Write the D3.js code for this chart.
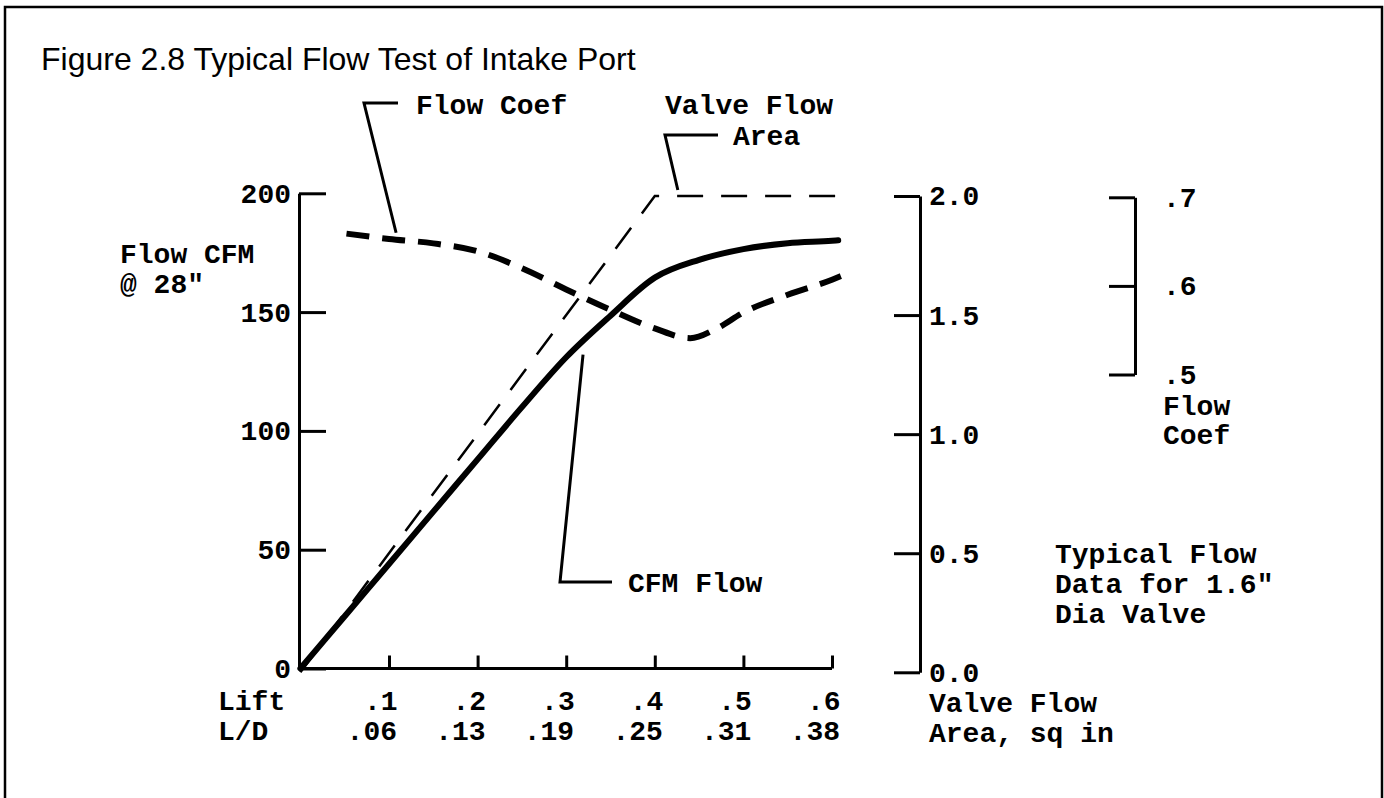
<!DOCTYPE html>
<html>
<head>
<meta charset="utf-8">
<script src="https://cdn.jsdelivr.net/npm/d3@7"></script>
<style>
body { margin: 0; background: #fff; }
svg text { font-family: "Courier New", "Liberation Mono", monospace; font-weight: bold; font-size: 28px; fill: #000; }
svg text.title { font-family: Arial, "Liberation Sans", sans-serif; font-weight: normal; font-size: 32px; }
</style>
</head>
<body>
<div id="chart"></div>
<script>
// valve lift (in) and measured flow
var lift = [0, 0.05, 0.1, 0.15, 0.2, 0.25, 0.3, 0.35, 0.4, 0.45, 0.5, 0.55, 0.6, 0.607];
var cfm = [0, 22, 44, 66, 88, 110, 131, 148.5, 164.5, 172, 176.5, 179, 180, 180.2];

// flow coefficient
var coefLift = [0.052, 0.1, 0.15, 0.2, 0.25, 0.3, 0.35, 0.4, 0.44, 0.47, 0.5, 0.55, 0.6, 0.61];
var coef = [0.659, 0.653, 0.648, 0.639, 0.620, 0.596, 0.573, 0.552, 0.541, 0.552, 0.570, 0.590, 0.607, 0.611];

// valve flow area, sq in
var areaLift = [0, 0.4, 0.607];
var area = [0, 2.0, 2.0];

// ticks
var liftTicks = [0.1, 0.2, 0.3, 0.4, 0.5, 0.6];
var ldLabels = ['.06', '.13', '.19', '.25', '.31', '.38'];
var cfmTicks = [0, 50, 100, 150, 200];
var areaTicks = [0, 0.5, 1.0, 1.5, 2.0];
var coefTicks = [0.5, 0.6, 0.7];

var width = 1384;
var height = 798;

var svg = d3.select('#chart')
	.append('svg')
	.attr('width', width)
	.attr('height', height);

// frame + title
svg.append('rect')
	.attr('x', 5).attr('y', 7)
	.attr('width', 1377).attr('height', 820)
	.attr('fill', 'none')
	.attr('stroke', '#000')
	.attr('stroke-width', 2.5);

svg.append('text')
	.attr('class', 'title')
	.attr('x', 41).attr('y', 70)
	.text('Figure 2.8 Typical Flow Test of Intake Port');

// scales
var x = d3.scaleLinear().domain([0, 0.6]).range([300.4, 832]);
var yCfm = d3.scaleLinear().domain([0, 200]).range([668.5, 193.3]);
var yArea = d3.scaleLinear().domain([0, 2]).range([672.3, 196]);
var yCoef = d3.scaleLinear().domain([0.5, 0.7]).range([374.5, 197.3]);

function dropZero(d) {
	return d3.format('.1f')(d).slice(1);
}

function styleAxis(g) {
	g.selectAll('path, line')
		.attr('stroke', '#000')
		.attr('stroke-width', 3);
}

// left axis (CFM)
var leftAxis = svg.append('g')
	.attr('transform', 'translate(299,0)')
	.call(d3.axisLeft(yCfm)
		.tickValues(cfmTicks)
		.tickSizeInner(-27)
		.tickSizeOuter(0)
		.tickPadding(8));
styleAxis(leftAxis);

svg.append('text').attr('x', 120).attr('y', 253).attr('dy', '0.35em').text('Flow CFM');
svg.append('text').attr('x', 120).attr('y', 283).attr('dy', '0.35em').text('@ 28"');

// bottom axis (lift)
var bottomAxis = svg.append('g')
	.attr('transform', 'translate(0,' + yCfm(0) + ')')
	.call(d3.axisBottom(x)
		.tickValues(liftTicks)
		.tickSizeInner(-13)
		.tickSizeOuter(0)
		.tickFormat(dropZero));
styleAxis(bottomAxis);
bottomAxis.select('.domain').attr('d', 'M299,0H' + x(0.6));
bottomAxis.selectAll('text')
	.attr('text-anchor', 'end')
	.attr('x', 8)
	.attr('y', 31.5)
	.attr('dy', '0.35em');

svg.append('g').selectAll('text')
	.data(liftTicks)
	.enter()
	.append('text')
	.attr('x', function(d, i){ return x(d) + 8; })
	.attr('y', yCfm(0) + 61.5)
	.attr('dy', '0.35em')
	.attr('text-anchor', 'end')
	.text(function(d, i){ return ldLabels[i]; });

svg.append('text').attr('x', 218).attr('y', 700).attr('dy', '0.35em').text('Lift');
svg.append('text').attr('x', 218).attr('y', 730).attr('dy', '0.35em').text('L/D');

// right axis (valve flow area)
var areaAxis = svg.append('g')
	.attr('transform', 'translate(920,0)')
	.call(d3.axisRight(yArea)
		.tickValues(areaTicks)
		.tickSizeInner(-26)
		.tickSizeOuter(0)
		.tickPadding(9)
		.tickFormat(d3.format('.1f')));
styleAxis(areaAxis);

svg.append('text').attr('x', 929).attr('y', 702).attr('dy', '0.35em').text('Valve Flow');
svg.append('text').attr('x', 929).attr('y', 732).attr('dy', '0.35em').text('Area, sq in');

// flow coefficient axis
var coefAxis = svg.append('g')
	.attr('transform', 'translate(1135,0)')
	.call(d3.axisRight(yCoef)
		.tickValues(coefTicks)
		.tickSizeInner(-26)
		.tickSizeOuter(0)
		.tickPadding(28)
		.tickFormat(dropZero));
styleAxis(coefAxis);

svg.append('text').attr('x', 1163).attr('y', 405).attr('dy', '0.35em').text('Flow');
svg.append('text').attr('x', 1163).attr('y', 434).attr('dy', '0.35em').text('Coef');

// note
svg.append('text').attr('x', 1055).attr('y', 553).attr('dy', '0.35em').text('Typical Flow');
svg.append('text').attr('x', 1055).attr('y', 583).attr('dy', '0.35em').text('Data for 1.6"');
svg.append('text').attr('x', 1055).attr('y', 613).attr('dy', '0.35em').text('Dia Valve');

// curves
var areaLine = d3.line()
	.x(function(d){ return x(d[0]); })
	.y(function(d){ return yArea(d[1]); });

svg.append('path')
	.datum(d3.zip(areaLift, area))
	.attr('d', areaLine)
	.attr('fill', 'none')
	.attr('stroke', '#000')
	.attr('stroke-width', 2.5)
	.attr('stroke-dasharray', '26,18');

var coefLine = d3.line()
	.curve(d3.curveMonotoneX)
	.x(function(d){ return x(d[0]); })
	.y(function(d){ return yCoef(d[1]); });

svg.append('path')
	.datum(d3.zip(coefLift, coef))
	.attr('d', coefLine)
	.attr('fill', 'none')
	.attr('stroke', '#000')
	.attr('stroke-width', 6)
	.attr('stroke-dasharray', '23,13');

var cfmLine = d3.line()
	.curve(d3.curveMonotoneX)
	.x(function(d){ return x(d[0]); })
	.y(function(d){ return yCfm(d[1]); });

svg.append('path')
	.datum(d3.zip(lift, cfm))
	.attr('d', cfmLine)
	.attr('fill', 'none')
	.attr('stroke', '#000')
	.attr('stroke-width', 6)
	.attr('stroke-linecap', 'round');

// callouts
var leader = d3.line();

svg.append('path')
	.attr('d', leader([[398, 103], [364, 103], [x(0.108), yCoef(0.66)]]))
	.attr('fill', 'none').attr('stroke', '#000').attr('stroke-width', 3);
svg.append('text').attr('x', 416).attr('y', 104).attr('dy', '0.35em').text('Flow Coef');

svg.append('path')
	.attr('d', leader([[718, 135], [665, 135], [x(0.426), yArea(2.0) - 6]]))
	.attr('fill', 'none').attr('stroke', '#000').attr('stroke-width', 3);
svg.append('text').attr('x', 665).attr('y', 104).attr('dy', '0.35em').text('Valve Flow');
svg.append('text').attr('x', 733).attr('y', 135).attr('dy', '0.35em').text('Area');

svg.append('path')
	.attr('d', leader([[612, 582], [560, 582], [x(0.319), yCfm(138) + 14]]))
	.attr('fill', 'none').attr('stroke', '#000').attr('stroke-width', 3);
svg.append('text').attr('x', 628).attr('y', 582).attr('dy', '0.35em').text('CFM Flow');
</script>
</body>
</html>
